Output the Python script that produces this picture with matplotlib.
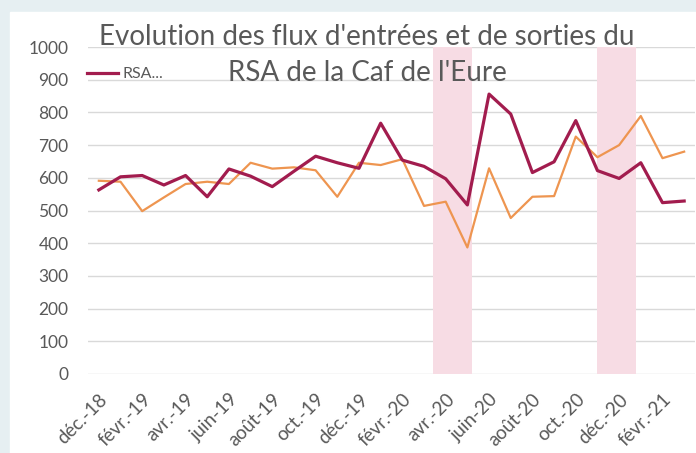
import matplotlib.pyplot as plt
import matplotlib.patches as mpatches

# données (déc.-18 -> mars-21)
mois = ["déc.-18", "janv.-19", "févr.-19", "mars-19", "avr.-19", "mai-19", "juin-19",
        "juil.-19", "août-19", "sept.-19", "oct.-19", "nov.-19", "déc.-19", "janv.-20",
        "févr.-20", "mars-20", "avr.-20", "mai-20", "juin-20", "juil.-20", "août-20",
        "sept.-20", "oct.-20", "nov.-20", "déc.-20", "janv.-21", "févr.-21", "mars-21"]
entrees = [563, 603, 607, 578, 607, 542, 627, 605, 573, 620, 666, 646, 629, 767,
           654, 635, 597, 517, 856, 795, 616, 649, 775, 622, 598, 646, 524, 529]
sorties = [591, 588, 498, 540, 581, 588, 581, 646, 628, 632, 623, 542, 646, 639,
           657, 514, 527, 387, 629, 477, 542, 544, 726, 663, 700, 789, 660, 680]
confinements = [(15.4, 17.2), (23.0, 24.8)]

col_entrees = "#A21C4E"
col_sorties = "#EE9550"
gris = "#595959"

fig = plt.figure(figsize=(6.96, 4.53), dpi=100)
fig.patch.set_facecolor("#E6EFF2")
fond = mpatches.Rectangle((10 / 696, 0), 1, 1 - 12 / 453, transform=fig.transFigure,
                          color="white", zorder=-10)
fig.add_artist(fond)

ax = fig.add_axes([88 / 696, 1 - 374 / 453, 607 / 696, 327 / 453])
ax.set_facecolor("none")

for debut, fin in confinements:
    ax.axvspan(debut, fin, color="#F7DCE4", lw=0, zorder=1)

x = range(len(mois))
ax.plot(x, sorties, color=col_sorties, lw=1.6, zorder=3)
ax.plot(x, entrees, color=col_entrees, lw=2.3, zorder=4, label="RSA...")

ax.set_xlim(-0.5, len(mois) - 0.5)
ax.set_ylim(0, 1000)
ax.set_yticks(range(0, 1001, 100))
ax.grid(axis="y", color="#D9D9D9", lw=1)
ax.set_axisbelow(True)
for s in ax.spines.values():
    s.set_visible(False)
ax.tick_params(length=0, colors=gris, labelsize=12.5)
ax.tick_params(axis="y", pad=14)
ax.tick_params(axis="x", pad=12)

ax.set_xticks(x[::2])
ax.set_xticklabels(mois[::2], rotation=45, ha="right", rotation_mode="anchor",
                   fontfamily="Lato", fontsize=13.5)
for lbl in ax.get_yticklabels():
    lbl.set_fontfamily("Lato")

leg = ax.legend(loc="upper left", bbox_to_anchor=(-0.025, 0.982), frameon=False,
                handlelength=1.9, handletextpad=0.3, prop={"family": "Lato", "size": 11.5})
for t in leg.get_texts():
    t.set_color(gris)

fig.text(367 / 696, 1 - 37 / 453, "Evolution des flux d'entrées et de sorties du",
         ha="center", va="center", fontsize=20, color=gris, fontfamily="Lato")
fig.text(367 / 696, 1 - 73 / 453, "RSA de la Caf de l'Eure",
         ha="center", va="center", fontsize=20, color=gris, fontfamily="Lato")

plt.savefig("out.png", dpi=100, facecolor=fig.get_facecolor())
